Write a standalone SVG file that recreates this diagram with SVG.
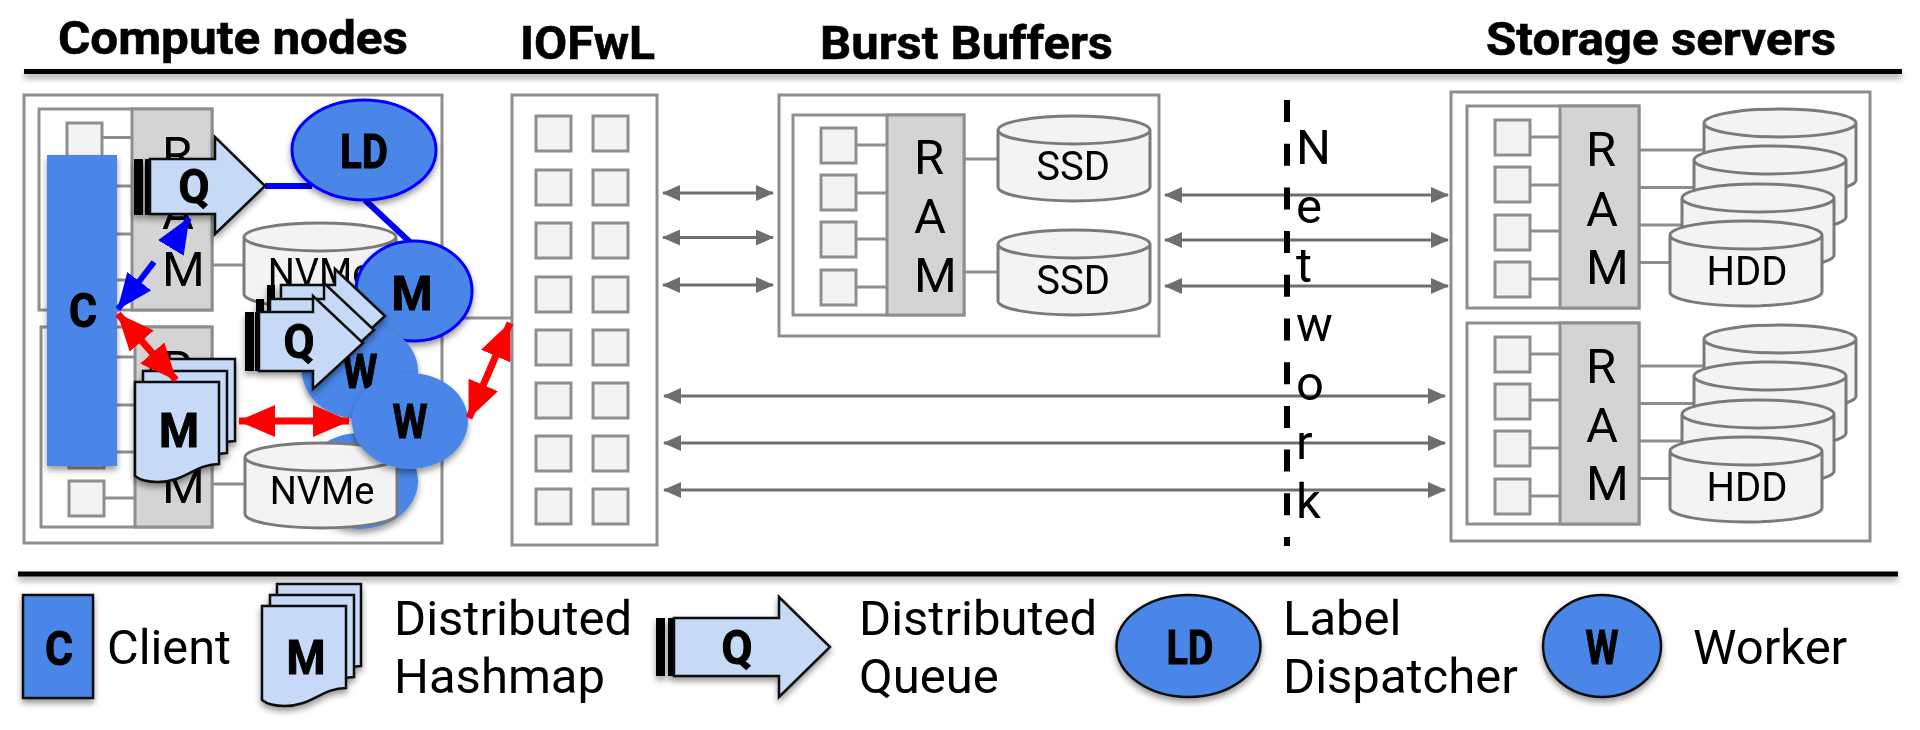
<svg xmlns="http://www.w3.org/2000/svg" width="1920" height="730" viewBox="0 0 1920 730">
<style>
text{font-family:Roboto,"Liberation Sans",sans-serif;fill:#000}
.t{font-size:47px;font-weight:700;stroke:#000;stroke-width:.6}
.b{font-size:48px;font-weight:700;text-anchor:middle;stroke:#000;stroke-width:1}
.l{font-size:49px}
.r{font-size:49px}
.d{font-size:40px;text-anchor:middle}
.n{font-size:38px;text-anchor:middle}
.box{fill:#fff;stroke:#8e8e8e;stroke-width:3}
.sq{fill:#f3f3f3;stroke:#8e8e8e;stroke-width:3}
.ram{fill:#d4d4d4;stroke:#8e8e8e;stroke-width:3}
.wire{stroke:#8e8e8e;stroke-width:3;fill:none}
.cyl{fill:#f3f3f3;stroke:#7a7a7a;stroke-width:3}
.grey{stroke:#6e6e6e;stroke-width:3;fill:none;marker-start:url(#ga);marker-end:url(#ga)}
.red{stroke:#f00;stroke-width:7;fill:none;marker-start:url(#ra);marker-end:url(#ra)}
.blue{stroke:#00f;stroke-width:6;fill:none}
.cf{fill:#4a86e8}
.qf{fill:#c6d9f7;stroke:#111;stroke-width:2.5}
.bar{fill:#000}
.lg{stroke:#111;stroke-width:2.5}
.net{stroke:#000;stroke-width:6;stroke-dasharray:22 21.7;fill:none}
</style>
<defs>
<marker id="ga" viewBox="0 0 18 16" refX="17" refY="8" markerWidth="18" markerHeight="16" markerUnits="userSpaceOnUse" orient="auto-start-reverse"><path d="M0 0L18 8L0 16Z" fill="#6e6e6e"/></marker>
<marker id="ra" viewBox="0 0 37 32" refX="36" refY="16" markerWidth="37" markerHeight="32" markerUnits="userSpaceOnUse" orient="auto-start-reverse"><path d="M0 0L37 16L0 32Z" fill="#f00"/></marker>
<marker id="ba" viewBox="0 0 36 30" refX="35" refY="15" markerWidth="36" markerHeight="30" markerUnits="userSpaceOnUse" orient="auto"><path d="M0 0L36 15L0 30Z" fill="#00f"/></marker>
<filter id="sh" x="-20%" y="-40%" width="140%" height="200%"><feDropShadow dx="0" dy="4" stdDeviation="3" flood-color="#000" flood-opacity=".4"/></filter>
<filter id="rs" x="-5%" y="-200%" width="110%" height="500%"><feDropShadow dx="0" dy="4" stdDeviation="3" flood-color="#000" flood-opacity=".4"/></filter>
<filter id="soft" filterUnits="userSpaceOnUse" x="0" y="0" width="1920" height="730"><feGaussianBlur stdDeviation="0.7"/></filter>
<path id="cyl" class="cyl" d="M0 14V71A76 14 0 0 0 152 71V14A76 14 0 0 0 0 14A76 14 0 0 0 152 14"/>
<rect id="s" class="sq" width="35" height="35"/>
<path id="q1" d="M0 22H65V0L115 49L65 97V77H0Z"/>
<path id="q2" d="M0 16H54V0L104 47L54 93V75H0Z"/>
<path id="q3" d="M0 21H105V0L156 50L105 100V79H0Z"/>
<path id="doc" d="M0 0H84V82C60 82 50 100 23 100C13 100 5 98 0 94Z"/>
</defs>
<rect width="1920" height="730" fill="#fff"/>
<g filter="url(#soft)">

<g id="titles">
<text class="t" x="58" y="54" textLength="350" lengthAdjust="spacingAndGlyphs">Compute nodes</text>
<text class="t" x="520" y="59" textLength="135" lengthAdjust="spacingAndGlyphs">IOFwL</text>
<text class="t" x="820" y="59" textLength="293" lengthAdjust="spacingAndGlyphs">Burst Buffers</text>
<text class="t" x="1486" y="55" textLength="350" lengthAdjust="spacingAndGlyphs">Storage servers</text>
<rect x="24" y="69" width="1878" height="5" style="fill:#000;filter:url(#rs)"/>
<rect x="18" y="571.500" width="1880" height="5" style="fill:#000;filter:url(#rs)"/>
</g>

<g id="compute-nodes">
<rect class="box" x="24" y="95" width="418" height="448"/>
<rect class="box" x="39" y="109" width="173" height="201"/>
<rect class="ram" x="132" y="109" width="80" height="201"/>
<rect class="box" x="41" y="327" width="171" height="200"/>
<rect class="ram" x="135" y="327" width="77" height="200"/>
<path class="wire" d="M102 137.500H132M102 186H132M102 234H132M102 280H132M104 357H135M104 405H135M104 452H135M104 498H135M212 265H244M212 484H245"/>
<use href="#s" x="67" y="123"/><use href="#s" x="67" y="170"/><use href="#s" x="67" y="216"/><use href="#s" x="67" y="263"/>
<use href="#s" x="69" y="340"/><use href="#s" x="69" y="386"/><use href="#s" x="69" y="433"/><use href="#s" x="69" y="481"/>
<text class="r" x="162" y="171">R</text><text class="r" x="162" y="229">A</text><text class="r" x="162" y="286">M</text>
<text class="r" x="162" y="385">R</text><text class="r" x="162" y="444">A</text><text class="r" x="162" y="503">M</text>
</g>

<g id="worker-3"><ellipse class="cf" cx="360" cy="481" rx="58" ry="48" filter="url(#sh)"/></g>
<g id="nvme-1"><use href="#cyl" x="244" y="223"/><text class="n" x="320" y="286">NVMe</text></g>
<g id="nvme-2"><use href="#cyl" x="245" y="443"/><text class="n" x="322" y="504">NVMe</text></g>

<g id="connectors">
<line x1="442" y1="318" x2="512" y2="318" class="wire"/>
<path class="blue" d="M265 186H312M365 200L412 244"/>
<line class="grey" x1="663" y1="193" x2="773" y2="193"/>
<line class="grey" x1="663" y1="237.500" x2="773" y2="237.500"/>
<line class="grey" x1="663" y1="285" x2="773" y2="285"/>
<line class="grey" x1="1165" y1="195" x2="1448" y2="195"/>
<line class="grey" x1="1165" y1="240" x2="1448" y2="240"/>
<line class="grey" x1="1165" y1="286" x2="1448" y2="286"/>
<line class="grey" x1="664" y1="396" x2="1445" y2="396"/>
<line class="grey" x1="664" y1="443" x2="1445" y2="443"/>
<line class="grey" x1="664" y1="490" x2="1445" y2="490"/>
</g>

<g id="iofwl">
<rect class="box" x="512" y="95" width="145" height="450"/>
<use href="#s" x="536" y="116"/><use href="#s" x="593" y="116"/>
<use href="#s" x="536" y="170"/><use href="#s" x="593" y="170"/>
<use href="#s" x="536" y="223"/><use href="#s" x="593" y="223"/>
<use href="#s" x="536" y="277"/><use href="#s" x="593" y="277"/>
<use href="#s" x="536" y="330"/><use href="#s" x="593" y="330"/>
<use href="#s" x="536" y="383"/><use href="#s" x="593" y="383"/>
<use href="#s" x="536" y="436"/><use href="#s" x="593" y="436"/>
<use href="#s" x="536" y="489"/><use href="#s" x="593" y="489"/>
</g>

<g id="burst-buffers">
<rect class="box" x="779" y="95" width="380" height="241"/>
<rect class="box" x="793" y="115" width="171" height="200"/>
<rect class="ram" x="887" y="115" width="77" height="200"/>
<path class="wire" d="M856 145H887M856 193H887M856 239H887M856 287H887M964 159H998M964 272H998"/>
<use href="#s" x="821" y="128"/><use href="#s" x="821" y="175"/><use href="#s" x="821" y="222"/><use href="#s" x="821" y="270"/>
<text class="r" x="914" y="174">R</text><text class="r" x="914" y="233">A</text><text class="r" x="914" y="292">M</text>
<use href="#cyl" x="998" y="116"/><text class="d" x="1073" y="180">SSD</text>
<use href="#cyl" x="998" y="230"/><text class="d" x="1073" y="294">SSD</text>
</g>

<g id="network">
<line class="net" x1="1287" y1="100" x2="1287" y2="546"/>
<text class="r" x="1296" y="164">N</text><text class="r" x="1296" y="223">e</text><text class="r" x="1296" y="282">t</text><text class="r" x="1296" y="341">w</text><text class="r" x="1296" y="400">o</text><text class="r" x="1296" y="459">r</text><text class="r" x="1296" y="518">k</text>
</g>

<g id="storage-servers">
<rect class="box" x="1451" y="92" width="419" height="449" fill-opacity="0"/>
<rect class="box" x="1467" y="106" width="172" height="202"/>
<rect class="ram" x="1560" y="106" width="79" height="202"/>
<rect class="box" x="1467" y="323" width="172" height="201"/>
<rect class="ram" x="1560" y="323" width="79" height="201"/>
<path class="wire" d="M1529 137H1560M1529 185H1560M1529 231H1560M1529 279H1560M1639 150H1704M1639 187.500H1694M1639 225H1682M1639 262.500H1670M1529 354H1560M1529 400H1560M1529 448H1560M1529 496H1560M1639 366H1704M1639 403.500H1694M1639 441H1682M1639 478.500H1670"/>
<use href="#s" x="1495" y="120"/><use href="#s" x="1495" y="167"/><use href="#s" x="1495" y="215"/><use href="#s" x="1495" y="262"/>
<use href="#s" x="1495" y="337"/><use href="#s" x="1495" y="384"/><use href="#s" x="1495" y="431"/><use href="#s" x="1495" y="479"/>
<text class="r" x="1586" y="166">R</text><text class="r" x="1586" y="226">A</text><text class="r" x="1586" y="284">M</text>
<text class="r" x="1586" y="383">R</text><text class="r" x="1586" y="442">A</text><text class="r" x="1586" y="500">M</text>
<use href="#cyl" x="1704" y="109"/><use href="#cyl" x="1694" y="146"/><use href="#cyl" x="1682" y="184"/><use href="#cyl" x="1670" y="221"/>
<text class="d" x="1747" y="285">HDD</text>
<use href="#cyl" x="1704" y="325"/><use href="#cyl" x="1694" y="362"/><use href="#cyl" x="1682" y="400"/><use href="#cyl" x="1670" y="437"/>
<text class="d" x="1747" y="501">HDD</text>
</g>

<g id="label-dispatcher"><ellipse class="cf" cx="364" cy="150" rx="72" ry="50" stroke="#00f" stroke-width="3" filter="url(#sh)"/><text class="b" x="364" y="168" textLength="48" lengthAdjust="spacingAndGlyphs">LD</text></g>
<g id="map"><ellipse class="cf" cx="414" cy="291" rx="58" ry="50" stroke="#00f" stroke-width="3" filter="url(#sh)"/><text class="b" x="412" y="310" textLength="41" lengthAdjust="spacingAndGlyphs">M</text></g>
<g id="worker-2"><ellipse class="cf" cx="360" cy="371" rx="58" ry="48" filter="url(#sh)"/><text class="b" x="360" y="388" textLength="35" lengthAdjust="spacingAndGlyphs">W</text></g>

<g id="client"><rect class="cf" x="47" y="155" width="70" height="311" filter="url(#sh)"/><text class="b" x="83" y="327" textLength="28" lengthAdjust="spacingAndGlyphs">C</text></g>

<g id="queue-1" filter="url(#sh)">
<use href="#q1" class="qf" x="150" y="137"/>
<rect class="bar" x="134" y="159" width="9" height="56"/><rect class="bar" x="145" y="159" width="4" height="56"/>
<text class="b" x="194" y="203" textLength="31" lengthAdjust="spacingAndGlyphs">Q</text></g>

<g id="queue-2" filter="url(#sh)">
<use href="#q2" class="qf" x="281" y="269"/><rect class="bar" x="267" y="285" width="8" height="59"/>
<use href="#q2" class="qf" x="270" y="283"/><rect class="bar" x="256" y="299" width="8" height="59"/>
<use href="#q2" class="qf" x="259" y="296"/><rect class="bar" x="245" y="312" width="9" height="59"/><rect class="bar" x="255" y="312" width="4" height="59"/>
<text class="b" x="299" y="358" textLength="31" lengthAdjust="spacingAndGlyphs">Q</text></g>

<g id="map-2" filter="url(#sh)">
<use href="#doc" class="qf" x="151" y="359"/>
<use href="#doc" class="qf" x="143" y="371"/>
<use href="#doc" class="qf" x="135" y="382"/>
<text class="b" x="179" y="447" textLength="40" lengthAdjust="spacingAndGlyphs">M</text></g>

<g id="worker-1"><ellipse class="cf" cx="410" cy="421" rx="58" ry="48" filter="url(#sh)"/><text class="b" x="410" y="438" textLength="35" lengthAdjust="spacingAndGlyphs">W</text></g>

<g id="connectors-top">
<line class="red" x1="118" y1="314" x2="176" y2="380"/>
<line class="red" x1="239" y1="421" x2="349" y2="421"/>
<line class="red" x1="510" y1="323" x2="469" y2="418"/>
<path class="blue" d="M154 262L118 309" marker-end="url(#ba)"/>
<path class="blue" d="M172 246L189 218" marker-end="url(#ba)"/>
</g>

<g id="legend">
<g id="legend-client"><rect class="cf lg" x="23" y="595" width="70" height="103" filter="url(#sh)"/><text class="b" x="59" y="665" textLength="28" lengthAdjust="spacingAndGlyphs">C</text><text class="l" x="107" y="664" textLength="124" lengthAdjust="spacingAndGlyphs">Client</text></g>
<g id="legend-map"><g filter="url(#sh)"><use href="#doc" class="qf" x="277" y="584"/><use href="#doc" class="qf" x="270" y="595"/><use href="#doc" class="qf" x="262" y="606"/></g><text class="b" x="306" y="674" textLength="39" lengthAdjust="spacingAndGlyphs">M</text>
<text class="l" x="394" y="635">Distributed</text><text class="l" x="394" y="693">Hashmap</text></g>
<g id="legend-queue"><g filter="url(#sh)"><use href="#q3" class="qf" x="674" y="597"/><rect class="bar" x="656" y="618" width="9" height="58"/><rect class="bar" x="668" y="618" width="5" height="58"/></g><text class="b" x="737" y="664" textLength="31" lengthAdjust="spacingAndGlyphs">Q</text>
<text class="l" x="859" y="635">Distributed</text><text class="l" x="859" y="693">Queue</text></g>
<g id="legend-ld"><ellipse class="cf lg" cx="1188.500" cy="646" rx="72" ry="51" filter="url(#sh)"/><text class="b" x="1190" y="664" textLength="47" lengthAdjust="spacingAndGlyphs">LD</text>
<text class="l" x="1283" y="635">Label</text><text class="l" x="1283" y="693">Dispatcher</text></g>
<g id="legend-worker"><ellipse class="cf lg" cx="1602" cy="646" rx="59" ry="51" filter="url(#sh)"/><text class="b" x="1602" y="664" textLength="33" lengthAdjust="spacingAndGlyphs">W</text><text class="l" x="1693" y="664">Worker</text></g>
</g>
</g>
</svg>
